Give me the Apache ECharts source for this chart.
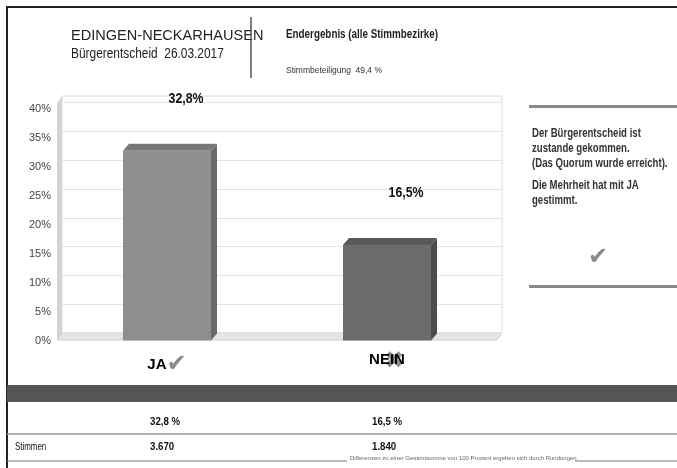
<!DOCTYPE html>
<html>
<head>
<meta charset="utf-8">
<script src="https://cdn.jsdelivr.net/npm/echarts@6/dist/echarts.min.js"></script>
<style>
  html, body { margin: 0; padding: 0; background: #fff; }
  #main { width: 677px; height: 468px; }
</style>
</head>
<body>
<div id="main"></div>
<script>
// Daten
var categories = ['JA', 'NEIN'];
var shares = [32.8, 16.5];
var shareTexts = ['32,8 %', '16,5 %'];
var votes = ['3.670', '1.840'];
var yTicks = [0, 5, 10, 15, 20, 25, 30, 35, 40];

var FONT = '"Liberation Sans", Arial, sans-serif';
var frontCol = ['#8e8e8e', '#6c6c6c'];
var topCol = ['#777777', '#585858'];
var sideCol = ['#6a6a6a', '#4c4c4c'];

var chart = echarts.init(document.getElementById('main'));

function bar3d(params, api) {
  var i = params.dataIndex;
  var top = api.coord([api.value(0), api.value(1)]);
  var base = api.coord([api.value(0), 0]);
  var w = api.size([1, 0])[0] * 0.4;
  var dx = 6, dy = -7;
  var x0 = top[0] - w / 2, x1 = top[0] + w / 2;
  return {
    type: 'group',
    children: [
      { type: 'polygon', shape: { points: [[x1, top[1]], [x1 + dx, top[1] + dy], [x1 + dx, base[1] + dy], [x1, base[1]]] },
        style: { fill: sideCol[i] } },
      { type: 'polygon', shape: { points: [[x0, top[1]], [x0 + dx, top[1] + dy], [x1 + dx, top[1] + dy], [x1, top[1]]] },
        style: { fill: topCol[i] } },
      { type: 'rect', shape: { x: x0, y: top[1], width: w, height: base[1] - top[1] },
        style: { fill: frontCol[i] } },
      { type: 'text', x: top[0] + 19, y: top[1] - 52, scaleX: 0.88,
        style: { text: String(api.value(1)).replace('.', ',') + '%', fill: '#111', font: 'bold 14px ' + FONT,
                 align: 'center', verticalAlign: 'middle' } }
    ]
  };
}

// schmale Schrift nachbilden
function txt(x, y, s, font, fill, sx, extra) {
  var st = { text: s, font: font, fill: fill, verticalAlign: 'middle' };
  for (var k in extra) st[k] = extra[k];
  return { type: 'text', x: x, y: y, scaleX: sx, style: st };
}

var option = {
  animation: false,
  grid: [
    { left: 57, right: 180, top: 109, bottom: 127.5 },
    { left: 62, right: 175, top: 102, bottom: 134.5 }
  ],
  xAxis: [
    { type: 'category', gridIndex: 0, data: categories,
      axisLine: { show: false }, axisTick: { show: false },
      axisLabel: {
        margin: 12,
        formatter: function (v) { return v === 'JA' ? '{b|JA}{c|✔}' : '{b|NEIN}'; },
        rich: {
          b: { fontWeight: 'bold', fontSize: 15, fontFamily: FONT, color: '#000' },
          c: { fontSize: 24, color: '#8a8a8a', fontFamily: 'DejaVu Sans' }
        }
      } },
    { type: 'category', gridIndex: 1, data: categories, show: false }
  ],
  yAxis: [
    { type: 'value', gridIndex: 0, min: 0, max: 40, interval: 5,
      axisLine: { show: false }, axisTick: { show: false }, splitLine: { show: false },
      axisLabel: { formatter: '{value}%', color: '#444', fontSize: 11, fontFamily: FONT, margin: 6 } },
    { type: 'value', gridIndex: 1, min: 0, max: 40, interval: 5,
      axisLine: { show: false }, axisTick: { show: false }, axisLabel: { show: false },
      splitLine: { lineStyle: { color: '#e2e2e2', width: 1 } } }
  ],
  series: [
    { type: 'custom', xAxisIndex: 0, yAxisIndex: 0, renderItem: bar3d,
      encode: { x: 0, y: 1 },
      data: categories.map(function (c, i) { return [c, shares[i]]; }) }
  ],
  graphic: [
    // Rahmen
    { type: 'rect', shape: { x: 7, y: 7, width: 690, height: 480 }, style: { fill: 'none', stroke: '#222', lineWidth: 2 } },
    // Kopf
    txt(71, 36, 'EDINGEN-NECKARHAUSEN', '15px ' + FONT, '#222', 0.97),
    txt(71, 54, 'Bürgerentscheid  26.03.2017', '14px ' + FONT, '#222', 0.85),
    { type: 'line', shape: { x1: 251, y1: 17, x2: 251, y2: 78 }, style: { stroke: '#555', lineWidth: 1.5 } },
    txt(286, 35, 'Endergebnis (alle Stimmbezirke)', 'bold 12px ' + FONT, '#222', 0.82),
    txt(286, 71, 'Stimmbeteiligung  49,4 %', '9px ' + FONT, '#333', 0.94),
    // 3D-Wände
    { type: 'polygon', shape: { points: [[57, 103], [62, 96], [62, 333], [57, 340]] }, style: { fill: '#d4d4d4' } },
    { type: 'polygon', shape: { points: [[57, 340], [497, 340], [502, 333], [62, 333]] }, style: { fill: '#e4e4e4', stroke: '#cfcfcf', lineWidth: 1 } },
    { type: 'rect', shape: { x: 62, y: 96, width: 440, height: 237 }, style: { fill: 'none', stroke: '#dcdcdc', lineWidth: 1 } },
    // NEIN-Kreuz
    { type: 'text', x: 394, y: 362, style: { text: '✖', font: '24px "DejaVu Sans"', fill: 'rgba(120,120,120,0.85)', align: 'center', verticalAlign: 'middle' } },
    // Infokasten
    { type: 'rect', shape: { x: 529, y: 105, width: 150, height: 3 }, style: { fill: '#8a8a8a' } },
    txt(532, 149, 'Der Bürgerentscheid ist\nzustande gekommen.\n(Das Quorum wurde erreicht).', 'bold 12px ' + FONT, '#333', 0.8, { lineHeight: 15 }),
    txt(532, 193, 'Die Mehrheit hat mit JA\ngestimmt.', 'bold 12px ' + FONT, '#333', 0.8, { lineHeight: 15 }),
    { type: 'text', x: 598, y: 258, style: { text: '✔', font: '24px "DejaVu Sans"', fill: '#8a8a8a', align: 'center', verticalAlign: 'middle' } },
    { type: 'rect', shape: { x: 529, y: 285, width: 150, height: 3 }, style: { fill: '#8a8a8a' } },
    // Tabelle
    { type: 'rect', shape: { x: 7, y: 385, width: 680, height: 17 }, style: { fill: '#555' } },
    txt(150, 422, shareTexts[0], 'bold 11px ' + FONT, '#111', 0.88),
    txt(372, 422, shareTexts[1], 'bold 11px ' + FONT, '#111', 0.88),
    { type: 'line', shape: { x1: 7, y1: 434, x2: 677, y2: 434 }, style: { stroke: '#999', lineWidth: 1.5 } },
    txt(15, 447, 'Stimmen', '11px ' + FONT, '#111', 0.72),
    txt(150, 447, votes[0], 'bold 11px ' + FONT, '#111', 0.88),
    txt(372, 447, votes[1], 'bold 11px ' + FONT, '#111', 0.88),
    { type: 'line', shape: { x1: 7, y1: 461, x2: 347, y2: 461 }, style: { stroke: '#777', lineWidth: 1 } },
    txt(350, 458, 'Differenzen zu einer Gesamtsumme von 100 Prozent ergeben sich durch Rundungen', '6px ' + FONT, '#666', 1),
    { type: 'line', shape: { x1: 575, y1: 461, x2: 677, y2: 461 }, style: { stroke: '#777', lineWidth: 1 } }
  ]
};
chart.setOption(option);
</script>
</body>
</html>
